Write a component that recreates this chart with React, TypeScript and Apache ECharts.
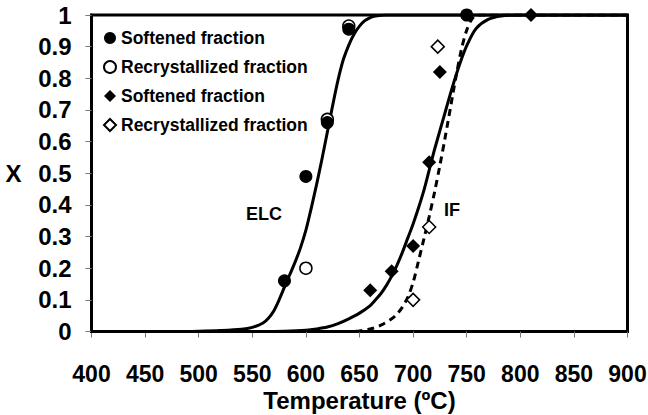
import { useEffect, useRef } from "react";
import * as echarts from "echarts";

const FONT = "'Liberation Sans', Arial, Helvetica, sans-serif";

// Axis ranges (temperature in ºC, transformed fraction X)
const xMin = 400;
const xMax = 900;
const xStep = 50;
const yMin = 0;
const yMax = 1;
const yStep = 0.1;

// Measured fractions — ELC steel
const elcSoftened: [number, number][] = [
  [580, 0.16],
  [600, 0.49],
  [620, 0.66],
  [640, 0.955],
  [750, 1.0],
];
const elcRecrystallized: [number, number][] = [
  [600, 0.2],
  [620, 0.67],
  [640, 0.965],
];

// Measured fractions — IF steel
const ifSoftened: [number, number][] = [
  [660, 0.13],
  [680, 0.19],
  [700, 0.27],
  [715, 0.535],
  [725, 0.82],
  [810, 1.0],
];
const ifRecrystallized: [number, number][] = [
  [700, 0.1],
  [715, 0.33],
  [723, 0.9],
];

// Fitted transformation curves
const elcCurve: [number, number][] = [
  [400, 0], [480, 0], [500, 0.001], [520, 0.003], [540, 0.007], [550, 0.013],
  [560, 0.027], [565, 0.042], [570, 0.065], [575, 0.1], [580, 0.14],
  [585, 0.18], [590, 0.22], [595, 0.265], [600, 0.32], [605, 0.39],
  [610, 0.465], [615, 0.545], [620, 0.63], [625, 0.715], [630, 0.795],
  [635, 0.86], [640, 0.905], [645, 0.94], [650, 0.965], [655, 0.982],
  [660, 0.992], [665, 0.997], [675, 1], [900, 1],
];
const ifCurve: [number, number][] = [
  [400, 0], [560, 0], [580, 0.001], [600, 0.004], [610, 0.008], [620, 0.014],
  [630, 0.025], [640, 0.04], [650, 0.058], [660, 0.082], [665, 0.1],
  [670, 0.12], [675, 0.145], [680, 0.175], [685, 0.21], [690, 0.25],
  [695, 0.295], [700, 0.34], [705, 0.39], [710, 0.445], [715, 0.51],
  [720, 0.575], [728, 0.67], [736, 0.765], [744, 0.85], [751, 0.91],
  [759, 0.958], [770, 0.986], [782, 0.997], [800, 1], [900, 1],
];
const ifRecrystCurve: [number, number][] = [
  [400, 0], [640, 0], [650, 0.002], [660, 0.008], [670, 0.02], [680, 0.04],
  [685, 0.055], [690, 0.077], [695, 0.108], [700, 0.155], [705, 0.222],
  [710, 0.292], [715, 0.363], [720, 0.44], [725, 0.525], [730, 0.615],
  [735, 0.71], [740, 0.805], [745, 0.89], [750, 0.952], [755, 0.988],
  [760, 1], [900, 1],
];

const legendText: Record<string, string> = {
  elcSoft: "Softened fraction",
  elcRecr: "Recrystallized fraction",
  ifSoft: "Softened fraction",
  ifRecr: "Recrystallized fraction",
};

export default function App() {
  const ref = useRef<HTMLDivElement>(null);

  useEffect(() => {
    if (!ref.current) return;
    const chart = echarts.init(ref.current, undefined, { renderer: "svg" });

    const axisTextStyle = {
      fontFamily: FONT,
      fontWeight: "bold" as const,
      fontSize: 24,
      lineHeight: 20,
      color: "#000",
    };

    chart.setOption({
      animation: false,
      backgroundColor: "#fff",
      grid: {
        left: 91.5,
        top: 15,
        width: 536,
        height: 316.5,
        outerBoundsMode: "none",
        show: true,
        borderColor: "#000",
        borderWidth: 3,
        backgroundColor: "transparent",
      },
      legend: {
        orient: "vertical",
        left: 98,
        top: 24,
        itemWidth: 12,
        itemHeight: 12,
        itemGap: 11,
        data: ["elcSoft", "elcRecr", "ifSoft", "ifRecr"],
        formatter: (name: string) => legendText[name],
        textStyle: {
          fontFamily: FONT,
          fontWeight: "bold",
          fontSize: 17.5,
          color: "#000",
        },
      },
      xAxis: {
        type: "value",
        min: xMin,
        max: xMax,
        interval: xStep,
        name: "Temperature (ºC)",
        nameLocation: "middle",
        nameGap: 58.5,
        nameMoveOverlap: false,
        nameTextStyle: axisTextStyle,
        axisLine: { show: true, onZero: false, lineStyle: { color: "#000", width: 3 } },
        axisTick: { show: true, length: 6, lineStyle: { color: "#777", width: 1 } },
        axisLabel: { ...axisTextStyle, fontSize: 23, margin: 32 },
        splitLine: { show: false },
      },
      yAxis: {
        type: "value",
        min: yMin,
        max: yMax,
        interval: yStep,
        name: "X",
        nameLocation: "middle",
        nameGap: 70,
        nameRotate: 0,
        nameMoveOverlap: false,
        nameTextStyle: axisTextStyle,
        axisLine: { show: true, onZero: false, lineStyle: { color: "#000", width: 3 } },
        axisTick: { show: true, length: 6, lineStyle: { color: "#777", width: 1 } },
        axisLabel: { ...axisTextStyle, margin: 20 },
        splitLine: { show: false },
      },
      graphic: [
        {
          type: "text",
          left: 246,
          top: 205,
          style: {
            text: "ELC",
            fontFamily: FONT,
            fontWeight: "bold",
            fontSize: 18,
            fill: "#000",
          },
        },
        {
          type: "text",
          left: 444,
          top: 201,
          style: {
            text: "IF",
            fontFamily: FONT,
            fontWeight: "bold",
            fontSize: 18,
            fill: "#000",
          },
        },
      ],
      series: [
        {
          type: "line",
          name: "elcFit",
          data: elcCurve,
          showSymbol: false,
          smooth: 0.3,
          lineStyle: { color: "#000", width: 3 },
          z: 1,
        },
        {
          type: "line",
          name: "ifFit",
          data: ifCurve,
          showSymbol: false,
          smooth: 0.3,
          lineStyle: { color: "#000", width: 3 },
          z: 1,
        },
        {
          type: "line",
          name: "ifRecrFit",
          data: ifRecrystCurve,
          showSymbol: false,
          smooth: 0.3,
          lineStyle: { color: "#000", width: 3, type: [7, 5] },
          z: 1,
        },
        {
          type: "scatter",
          name: "elcRecr",
          data: elcRecrystallized,
          symbol: "circle",
          symbolSize: 12,
          itemStyle: { color: "#fff", borderColor: "#000", borderWidth: 1.5, opacity: 1 },
          z: 3,
        },
        {
          type: "scatter",
          name: "elcSoft",
          data: elcSoftened,
          symbol: "circle",
          symbolSize: 13,
          itemStyle: { color: "#000", opacity: 1 },
          z: 4,
        },
        {
          type: "scatter",
          name: "ifRecr",
          data: ifRecrystallized,
          symbol: "diamond",
          symbolSize: 13,
          itemStyle: { color: "#fff", borderColor: "#000", borderWidth: 1.5, opacity: 1 },
          z: 3,
        },
        {
          type: "scatter",
          name: "ifSoft",
          data: ifSoftened,
          symbol: "diamond",
          symbolSize: 14,
          itemStyle: { color: "#000", opacity: 1 },
          z: 4,
        },
      ],
    });

    return () => chart.dispose();
  }, []);

  return (
    <div
      ref={ref}
      style={{ position: "fixed", left: 0, top: 0, width: 648, height: 415 }}
    />
  );
}
